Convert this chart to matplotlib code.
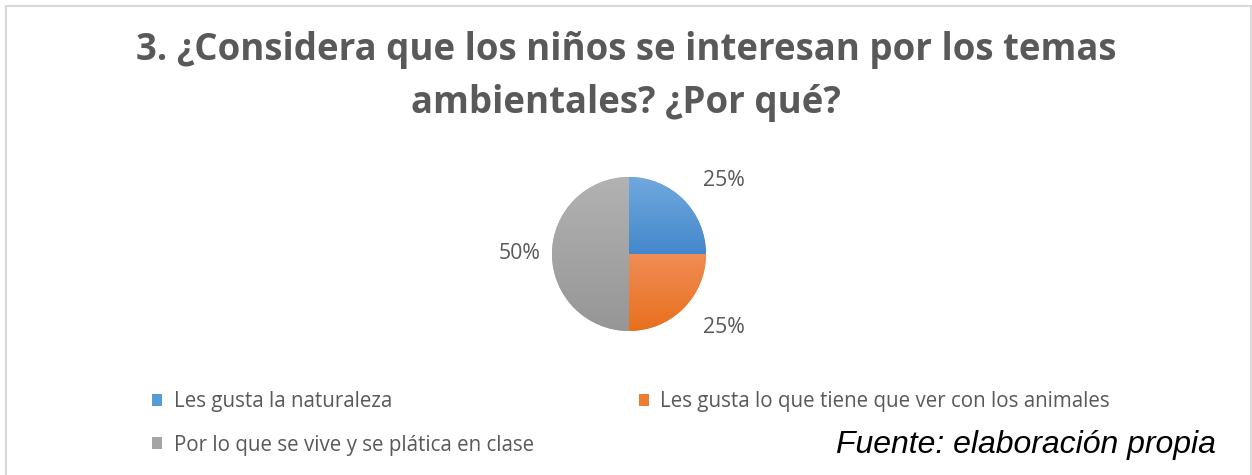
import matplotlib
matplotlib.use('Agg')
import matplotlib.pyplot as plt
import numpy as np
from matplotlib.patches import Patch, Rectangle
from matplotlib.colors import LinearSegmentedColormap

# data
categories = ['Les gusta la naturaleza',
              'Les gusta lo que tiene que ver con los animales',
              'Por lo que se vive y se plática en clase']
values = [25, 25, 50]
colors = ['#5b9bd5', '#ed7d31', '#a5a5a5']
grad_top = ['#70a8de', '#f08c55', '#b2b2b2']
grad_bottom = ['#4488cc', '#e8701e', '#969696']
title = '3. ¿Considera que los niños se interesan por los temas\nambientales? ¿Por qué?'
source = 'Fuente: elaboración propia'

W, H = 1252, 475
fig = plt.figure(figsize=(W / 100, H / 100), dpi=100)
fig.patch.set_facecolor('white')

# chart border
fig.patches.append(Rectangle((5.5 / W, -0.1), 1245.5 / W, 1.1 - 5.5 / H,
                             transform=fig.transFigure, fill=False,
                             edgecolor='#d9d9d9', linewidth=1.5))

fig.text(0.5, 1 - 31 / H, title, ha='center', va='top', fontsize=26.4,
         fontweight='bold', color='#595959', family='Open Sans',
         linespacing=1.5)

# pie
cx, cy, r = 629, H - 254, 77
ax = fig.add_axes([(cx - r) / W, (cy - r) / H, 2 * r / W, 2 * r / H])
wedges, texts = ax.pie(values, colors=colors, startangle=90, counterclock=False,
                       labels=['%d%%' % v for v in values], labeldistance=1.3,
                       textprops=dict(fontsize=15.3, color='#595959', family='Open Sans'))
# excel "best fit" label placement: small slices a bit further out
label_dist = [1.35, 1.35, 1.15]
for t, w, d in zip(texts, wedges, label_dist):
    ang = np.deg2rad((w.theta1 + w.theta2) / 2)
    t.set_position((d * np.cos(ang), d * np.sin(ang)))
for w, top, bot in zip(wedges, grad_top, grad_bottom):
    ext = w.get_path().get_extents()
    cmap = LinearSegmentedColormap.from_list('g', [bot, top])
    grad = np.linspace(0, 1, 100).reshape(-1, 1)
    im = ax.imshow(grad, extent=(ext.x0, ext.x1, ext.y0, ext.y1), origin='lower',
                   cmap=cmap, aspect='auto', zorder=w.get_zorder())
    im.set_clip_path(w)
ax.set_xlim(-1, 1)
ax.set_ylim(-1, 1)
ax.axis('off')

# legend (row order: blue, orange / gray)
handles = [Patch(facecolor=c, edgecolor='none') for c in colors]
order = [0, 2, 1]
fig.legend([handles[i] for i in order], [categories[i] for i in order],
           loc='upper left', bbox_to_anchor=(152 / W, 1 - 391 / H), ncol=2,
           frameon=False, handlelength=0.5, handleheight=0.5,
           handletextpad=0.55, columnspacing=5.1, labelspacing=1.1,
           borderpad=0, borderaxespad=0,
           prop=dict(family='Open Sans', size=14.8), labelcolor='#595959')

fig.text(1216 / W, 1 - 445 / H, source, ha='right', va='center', fontsize=23,
         style='italic', family='Liberation Sans', color='black')

fig.savefig('out.png', dpi=100, facecolor='white')
